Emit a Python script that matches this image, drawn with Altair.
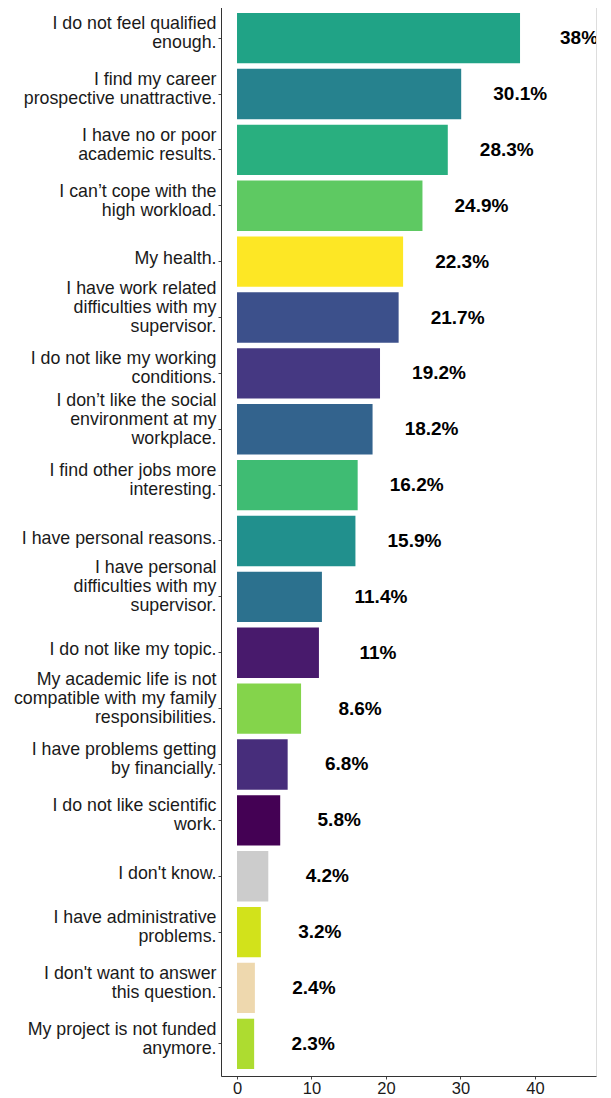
import altair as alt
import pandas as pd

categories = [
    "I do not feel qualified|enough.",
    "I find my career|prospective unattractive.",
    "I have no or poor|academic results.",
    "I can’t cope with the|high workload.",
    "My health.",
    "I have work related|difficulties with my|supervisor.",
    "I do not like my working|conditions.",
    "I don’t like the social|environment at my|workplace.",
    "I find other jobs more|interesting.",
    "I have personal reasons.",
    "I have personal|difficulties with my|supervisor. ",
    "I do not like my topic.",
    "My academic life is not|compatible with my family|responsibilities.",
    "I have problems getting|by financially.",
    "I do not like scientific|work.",
    "I don't know.",
    "I have administrative|problems.",
    "I don't want to answer|this question.",
    "My project is not funded|anymore.",
]
values = [38, 30.1, 28.3, 24.9, 22.3, 21.7, 19.2, 18.2, 16.2, 15.9,
          11.4, 11, 8.6, 6.8, 5.8, 4.2, 3.2, 2.4, 2.3]
colors = ["#20A386", "#26828E", "#29AF7F", "#5EC962", "#FDE725", "#3C508B",
          "#453882", "#33638D", "#3FBC73", "#21908D", "#2C718E", "#481A6C",
          "#84D44B", "#472D7B", "#440154", "#CCCCCC", "#D2E21B", "#EED8AE",
          "#ADDC30"]
x_ticks = [0, 10, 20, 30, 40]

df = pd.DataFrame({
    "reason": categories,
    "pct": values,
    "label": [f"{v:g}%" for v in values],
})

label_offset = {
    "condition": [
        {"test": "length(split(datum.value, '|')) == 3", "value": -28.5},
        {"test": "length(split(datum.value, '|')) == 2", "value": -14},
    ],
    "value": -2.3,
}

y_enc = alt.Y(
    "reason:N",
    sort=categories,
    scale=alt.Scale(paddingInner=0.1, paddingOuter=0.1342, align=0.533),
    axis=alt.Axis(
        title=None,
        labelExpr="split(datum.label, '|')",
        labelFont="Liberation Sans",
        labelFontSize=17.8,
        labelLineHeight=19,
        labelColor="#1A1A1A",
        labelPadding=2,
        labelLimit=0,
        labelOffset=label_offset,
        tickSize=3,
        tickColor="#444444",
        domainColor="#333333",
        domainWidth=1,
        grid=False,
    ),
)

x_scale = alt.Scale(domain=[-2.15, 48.2], nice=False, zero=False)

bars = alt.Chart(df).mark_bar().encode(
    y=y_enc,
    x=alt.X(
        "pct:Q",
        scale=x_scale,
        axis=alt.Axis(
            title=None,
            values=x_ticks,
            labelFont="Liberation Sans",
            labelFontSize=16.5,
            labelColor="#1A1A1A",
            labelPadding=1,
            tickSize=3,
            tickColor="#444444",
            domainColor="#333333",
            domainWidth=1,
            grid=False,
        ),
    ),
    x2=alt.datum(0),
    color=alt.Color("reason:N", scale=alt.Scale(domain=categories, range=colors), legend=None),
)

texts = alt.Chart(df).mark_text(
    align="center",
    baseline="middle",
    dx=59,
    font="Liberation Sans",
    fontSize=19,
    fontWeight="bold",
    color="#000000",
    clip=True,
).encode(
    y=alt.Y("reason:N", sort=categories),
    x=alt.X("pct:Q", scale=x_scale),
    text="label:N",
)

chart = alt.layer(bars, texts).properties(
    width=375,
    height=1071,
    autosize=alt.AutoSizeParams(type="none"),
    padding={"left": 213, "top": -3, "right": 7, "bottom": 20},
).configure_view(stroke=None).configure(background="white")

chart.save("out.html", embed_options={"renderer": "svg", "actions": False})
